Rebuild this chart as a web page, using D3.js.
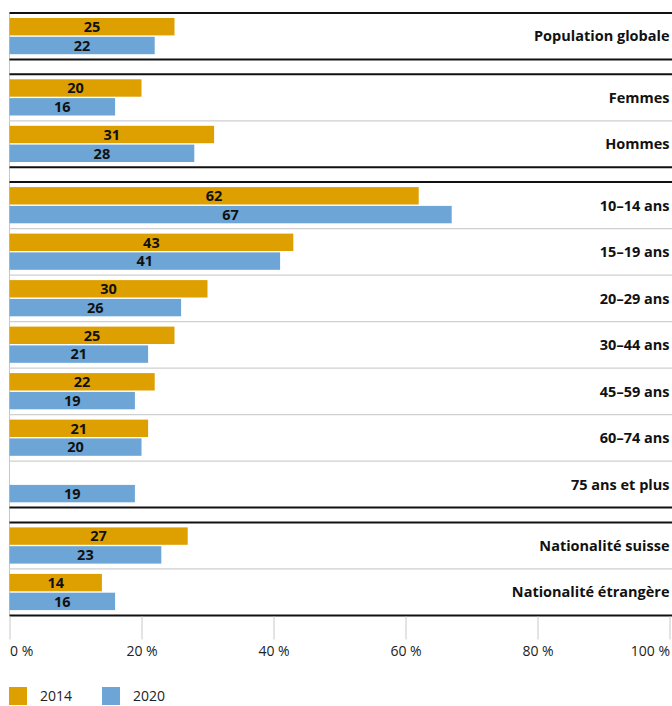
<!DOCTYPE html>
<html>
<head>
<meta charset="utf-8">
<script src="https://cdn.jsdelivr.net/npm/d3@7"></script>
<style>
  html, body { margin: 0; padding: 0; background: #fff; }
  svg { display: block; font-family: "Open Sans", "Noto Sans", sans-serif; }
</style>
</head>
<body>
<svg id="chart" width="672" height="706"></svg>
<script>
// Categories, grouped in blocks separated by black rules
const categories = [
  "Population globale",
  "Femmes", "Hommes",
  "10–14 ans", "15–19 ans", "20–29 ans", "30–44 ans", "45–59 ans", "60–74 ans", "75 ans et plus",
  "Nationalité suisse", "Nationalité étrangère"
];
const groupOf = [0, 1, 1, 2, 2, 2, 2, 2, 2, 2, 3, 3];

// Shares in %, per survey year (null = no value)
const values2014 = [25, 20, 31, 62, 43, 30, 25, 22, 21, null, 27, 14];
const values2020 = [22, 16, 28, 67, 41, 26, 21, 19, 20, 19, 23, 16];

const years = ["2014", "2020"];
const tickValues = [0, 20, 40, 60, 80, 100];
const tickLabels = ["0 %", "20 %", "40 %", "60 %", "80 %", "100 %"];

const colors = { "2014": "#DE9F00", "2020": "#6CA5D6" };

const svg = d3.select("#chart");
const W = 672;
const left = 9.5, right = 669.5;
const top0 = 13, rowH = 46.5, groupGap = 14.8;
const barH = 17.4, barGap = 1.4, padTop = 5;

const x = d3.scaleLinear().domain([0, 100]).range([left, right]);

const rows = categories.map((c, i) => ({
  name: c, group: groupOf[i], v14: values2014[i], v20: values2020[i],
  y: top0 + i * rowH + groupOf[i] * groupGap
}));

// group extents
const groups = d3.groups(rows, d => d.group).map(([g, rs]) => ({
  g, y0: rs[0].y, y1: rs[rs.length - 1].y + rowH, rows: rs
}));

// Zero line
svg.append("line")
  .attr("x1", x(0)).attr("x2", x(0))
  .attr("y1", top0).attr("y2", groups[groups.length - 1].y1)
  .attr("stroke", "#c8c8c8").attr("stroke-width", 1);

// Grey separators between rows of a group
groups.forEach(gr => {
  gr.rows.slice(1).forEach(r => {
    svg.append("line")
      .attr("x1", left).attr("x2", W)
      .attr("y1", r.y).attr("y2", r.y)
      .attr("stroke", "#cfcfcf").attr("stroke-width", 1.2);
  });
});

// Bars and value labels
const barG = svg.append("g");
rows.forEach(r => {
  const data = [{ year: "2014", v: r.v14 }, { year: "2020", v: r.v20 }].filter(d => d.v != null);
  const by = d => d.year === "2014" ? padTop : padTop + barH + barGap;
  const g = barG.append("g").attr("transform", `translate(0,${r.y})`);
  g.selectAll("rect").data(data).join("rect")
    .attr("x", x(0))
    .attr("y", by)
    .attr("width", d => x(d.v) - x(0))
    .attr("height", barH)
    .attr("fill", d => colors[d.year]);
  g.selectAll("text").data(data).join("text")
    .attr("x", d => (x(0) + x(d.v)) / 2)
    .attr("y", d => by(d) + barH / 2)
    .attr("dy", "0.36em")
    .attr("text-anchor", "middle")
    .attr("font-size", 14.5).attr("font-weight", 700).attr("fill", "#111")
    .text(d => d.v);
  // category label
  svg.append("text")
    .attr("x", right).attr("y", r.y + rowH / 2)
    .attr("dy", "0.36em").attr("text-anchor", "end")
    .attr("font-size", 14.5).attr("font-weight", 700).attr("fill", "#111")
    .text(r.name);
});

// Black rules around each group
groups.forEach(gr => {
  [gr.y0, gr.y1].forEach(yy => {
    svg.append("line")
      .attr("x1", left).attr("x2", W)
      .attr("y1", yy).attr("y2", yy)
      .attr("stroke", "#111").attr("stroke-width", 2);
  });
});

// X axis
const axisY = groups[groups.length - 1].y1 + 1;
const axis = d3.axisBottom(x).tickValues(tickValues)
  .tickFormat((d, i) => tickLabels[i]).tickSize(23).tickPadding(7);
const ag = svg.append("g").attr("transform", `translate(0,${axisY})`).call(axis);
ag.select(".domain").remove();
ag.selectAll(".tick line").attr("stroke", "#c8c8c8");
ag.selectAll(".tick text")
  .attr("font-family", "'Open Sans', 'Noto Sans', sans-serif")
  .attr("font-size", 14).attr("fill", "#222")
  .attr("text-anchor", (d, i) => i === 0 ? "start" : (i === tickValues.length - 1 ? "end" : "middle"));

// Legend
const lg = svg.append("g").attr("transform", "translate(9,687)");
years.forEach((yr, i) => {
  const g = lg.append("g").attr("transform", `translate(${i * 93},0)`);
  g.append("rect").attr("width", 18).attr("height", 18).attr("fill", colors[yr]);
  g.append("text").attr("x", 31).attr("y", 14)
    .attr("font-size", 14).attr("fill", "#222").text(yr);
});
</script>
</body>
</html>
